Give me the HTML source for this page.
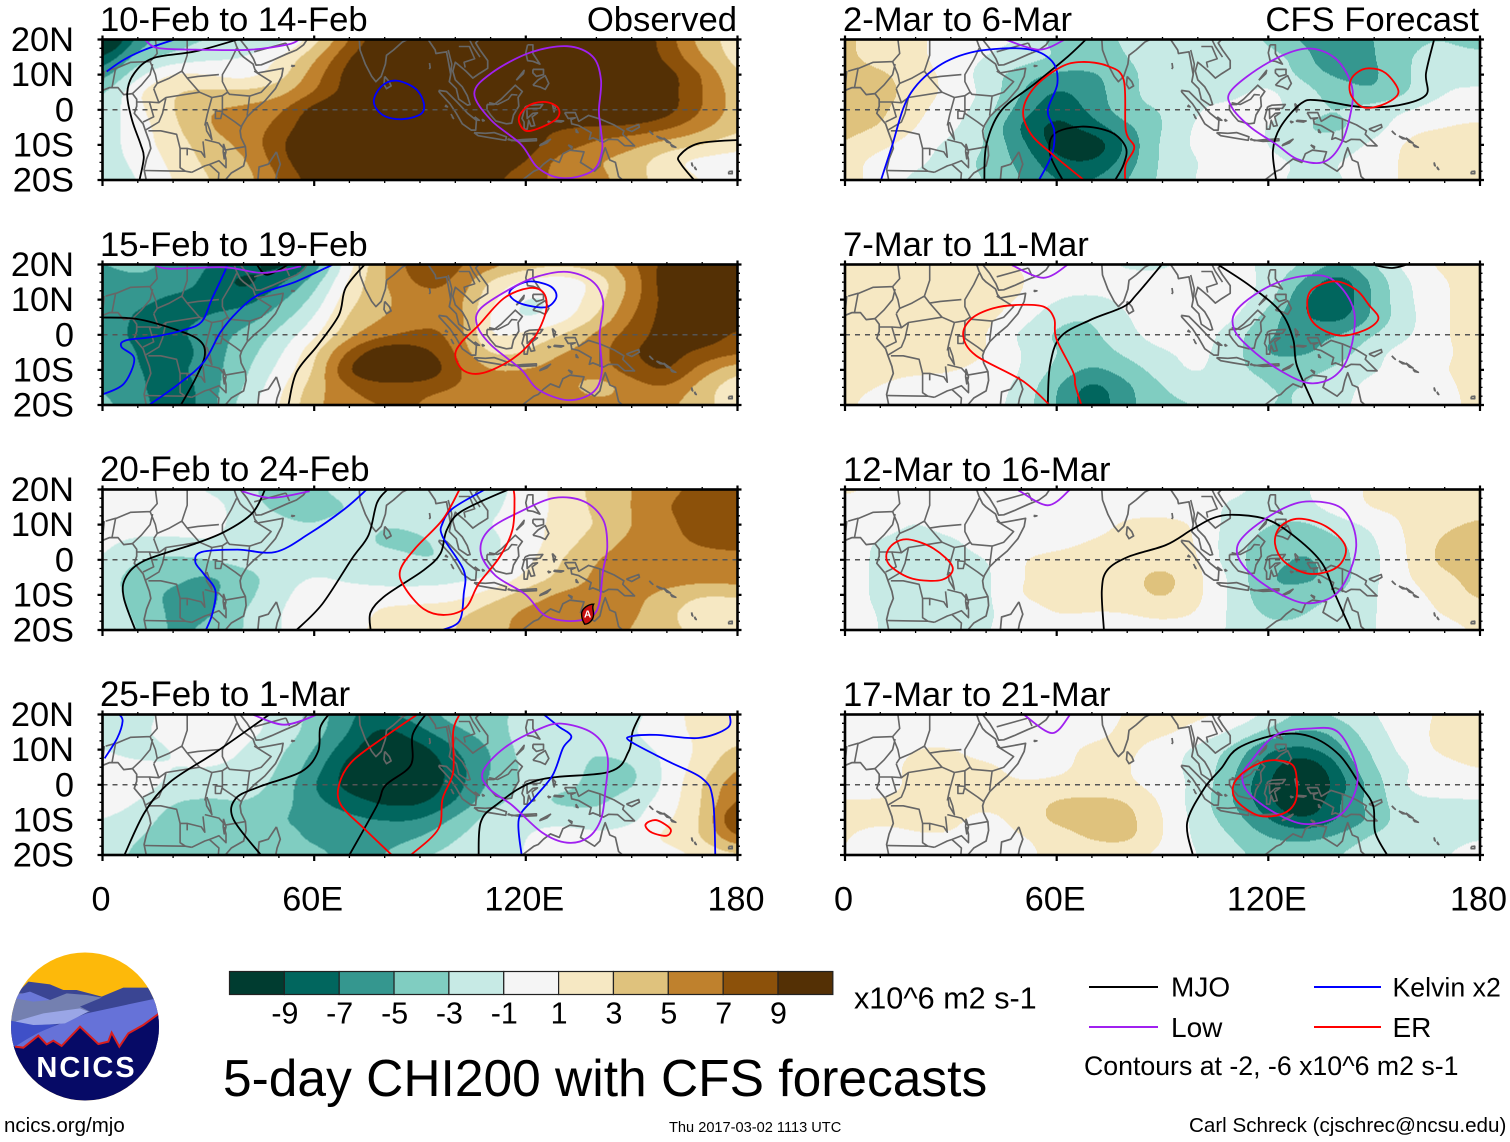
<!DOCTYPE html>
<html lang="en">
<head>
<meta charset="utf-8">
<title>5-day CHI200 with CFS forecasts</title>
<style>
html,body{margin:0;padding:0;background:#fff;}
svg{display:block;}
text{font-family:"Liberation Sans",sans-serif;fill:#000;}
</style>
</head>
<body>
<svg id="chart" xmlns="http://www.w3.org/2000/svg" width="1510" height="1142" viewBox="0 0 1510 1142">
  <rect x="0" y="0" width="1510" height="1142" fill="#fff"/>
  <g id="panels"></g>

  <g>
    <text x="100" y="31" font-size="34.65">10-Feb to 14-Feb</text>
    <text x="737" y="31" font-size="34.65" text-anchor="end">Observed</text>
    <text x="100" y="256" font-size="34.65">15-Feb to 19-Feb</text>
    <text x="100" y="481" font-size="34.9">20-Feb to 24-Feb</text>
    <text x="100" y="706" font-size="34.9">25-Feb to 1-Mar</text>
    <text x="843" y="31" font-size="34.65">2-Mar to 6-Mar</text>
    <text x="1479" y="31" font-size="34.65" text-anchor="end">CFS Forecast</text>
    <text x="843" y="256" font-size="34.65">7-Mar to 11-Mar</text>
    <text x="843" y="481" font-size="34.65">12-Mar to 16-Mar</text>
    <text x="843" y="706" font-size="34.65">17-Mar to 21-Mar</text>
  </g>

  <g id="colorbar"></g>
  <text x="854" y="1008.5" font-size="30.6">x10^6 m2 s-1</text>

  <text x="223" y="1096" font-size="51.5">5-day CHI200 with CFS forecasts</text>

  <g>
    <line x1="1089" y1="987" x2="1158" y2="987" stroke="#000" stroke-width="2"/>
    <text x="1171" y="996.5" font-size="28">MJO</text>
    <line x1="1314" y1="987" x2="1381" y2="987" stroke="#0000ff" stroke-width="2"/>
    <text x="1392.5" y="996.5" font-size="26.7">Kelvin x2</text>
    <line x1="1089" y1="1027" x2="1158" y2="1027" stroke="#a020f0" stroke-width="2"/>
    <text x="1171" y="1037" font-size="28">Low</text>
    <line x1="1314" y1="1027" x2="1381" y2="1027" stroke="#ff0000" stroke-width="2"/>
    <text x="1392.5" y="1037" font-size="28">ER</text>
    <text x="1084" y="1075" font-size="26.7">Contours at -2, -6 x10^6 m2 s-1</text>
  </g>

  <g>
    <clipPath id="logoClip"><circle cx="85" cy="1026.5" r="74"/></clipPath>
    <g clip-path="url(#logoClip)">
      <g transform="translate(0 945) scale(.3333)">
        <rect x="0" y="0" width="520" height="520" fill="#fdb90a"/>
        <path d="M50 145L85 110L150 118L190 135L230 135L305 155L370 128L445 128L490 220L490 330L20 330Z" fill="#3a4593"/>
        <path d="M30 165L55 145L100 145L150 165L200 145L260 150L305 158L240 185L270 200L100 232L20 235Z" fill="#7480b0"/>
        <path d="M50 150L90 140L150 165L100 170L45 160Z" fill="#6a78d8"/>
        <path d="M40 305L120 260L260 205L470 160L490 220L480 320L40 320Z" fill="#6672d8"/>
        <path d="M45 230L130 205L240 190L265 200L195 235L100 242Z" fill="#9aa6e6"/>
        <path d="M20 225L100 240L172 238L100 270L45 305L20 310Z" fill="#3f50c8"/>
        <path d="M20 300L45 305L70 308L115 272L140 298L160 287L185 303L240 245L295 297L325 290L335 263L358 305L385 265L430 240L490 195L490 500L20 500Z" fill="#060a66"/>
        <path d="M45 305L70 308L115 272L140 298L160 287L185 303L240 245L295 297L325 290L335 263L358 305L385 265L430 240L478 205" fill="none" stroke="#d81e1e" stroke-width="6"/>
      </g>
    </g>
    <text x="86.5" y="1077" text-anchor="middle" font-size="29" font-weight="bold" letter-spacing="2" style="fill:#fff">NCICS</text>
  </g>

  <text x="4" y="1132" font-size="20.5">ncics.org/mjo</text>
  <text x="669" y="1132" font-size="14.6">Thu 2017-03-02 1113 UTC</text>
  <text x="1189" y="1132" font-size="20.6">Carl Schreck (cjschrec@ncsu.edu)</text>
</svg>

<script>
/* ---------- axis data ---------- */
const gridLons = [0,10,20,30,40,50,60,70,80,90,100,110,120,130,140,150,160,170,180];
const gridLats = [20,15,10,5,0,-5,-10,-15,-20];
const xTickLons = [0,60,120,180];
const xTickLabels = ['0','60E','120E','180'];
const yTickLats = [20,10,0,-10,-20];
const yTickLabels = ['20N','10N','0','10S','20S'];
const levels = [-9,-7,-5,-3,-1,1,3,5,7,9];
const levelColors = ['#003c30','#01665e','#35978f','#80cdc1','#c7eae5','#f5f5f5','#f6e8c3','#dfc27d','#bf812d','#8c510a','#543005'];

/* ---------- CHI200 anomaly, rows N to S, columns 0E to 180E ---------- */
const chiFeb10 = [
[-14,-6,-4,-3,-3,-2,2,7,11,12,12,12,12,12,12,11,8,4,2],
[-9,-4,-2.5,-1.5,-1,1,4.5,9,12,13,13,13,13,13,13,11,8.5,5,2],
[-6,-1.5,1.5,1,0,2,6,10,13,13,13,13,13,13,13,11,10,7,3],
[-3.5,1,3,3.5,3.5,4.2,7,10,13,13,13,13,13,13,13,12,10,7,4],
[-2.5,.5,3,5,5.5,6.5,10,12,13,13,13,13,13,13,13,12,10,7,4],
[-2,0,2.5,5,6,7.5,11,12,13,13,13,12,10,9,8.5,8.5,7.5,5.5,3.5],
[-2,0,2,4,5.5,8.5,12,13,13,13,13,12,10,8,6.5,5.5,4,3,1.5],
[-2,-.5,1.5,3.5,4.5,8,11,12,13,13,12,11,9,6,5,4,1.5,0,0],
[-2.5,-1,1,3,4,7,10,12,12,12,11,10,7,7,6,3.5,2.5,1,-1]];
const chiFeb15 = [
[-5,-4.3,-5.5,-7,-8,-10,-6.5,.5,5,8.5,7.5,6,4,3.5,4,6.5,10,11,11],
[-6,-5.5,-6,-7.5,-10,-7.5,-4,1.5,5,7.5,7,2.5,.5,-.5,1.5,5.5,10.5,11,11],
[-5.5,-6.5,-7.5,-7.5,-8,-5.5,-2.5,2.5,4.5,6.5,6,1.5,-1.5,-.5,2,6,10,11,11],
[-5.5,-7.5,-7.5,-7,-6,-4,-1,3.5,5,6.5,6.5,.5,-1.5,0,3,7,10,11,10],
[-6,-7.5,-7.5,-6,-4.5,-2.5,.5,4.5,6.5,7.5,6.5,.5,1.5,3,5.5,8,10,10.5,8.5],
[-6,-7,-8.5,-6,-4,-1.5,2.5,7.5,11,10,7,2.5,3,5,6,9,10,8.5,7.5],
[-5.5,-7,-7.5,-6,-3.5,-.5,3,9.5,12,12,7.5,5,5,6,6,8,9.5,6,3.5],
[-5,-6.5,-8.5,-6,-3,.5,4,7,8,7.5,7,6,7,6,3.5,6,7,4,1.5],
[-4.5,-6,-8.5,-6,-2,1,4.5,6.5,7,7,6,5.5,7,7,6,5.5,5.5,3.5,2]];
const chiFeb20 = [
[0,0,0,-1.3,-2,-4.5,-3.5,-2,-2,-1.5,-1.5,-1.5,-.5,2,3.5,5,6.5,7.5,7.5],
[0,0,0,0,-2,-3.5,-4,-3,-2,-2,-1.5,-1.5,0,1.5,3.5,5,7,8,8],
[0,0,0,-.5,-1.5,-2.5,-3,-2,-3,-2.5,-1.5,-1,0,1.8,3,5,6.5,8,8],
[-.5,-1.5,-1.5,-1,-1.5,-2,-2,-2.2,-3.5,-3.5,-2,-1.5,0,2,4,5.5,6.5,7.2,7.5],
[-1,-3,-3.5,-3,-2,-2,-2,-2,-2,-3,-3,-1.2,.3,3,5,6,6.5,6.5,6.5],
[-2,-4,-4.5,-5.5,-4,-2,-.8,-1.5,-2,-2,-1.5,-1.2,1.5,3.5,5.5,6,6,6,6],
[-1.8,-4,-5.5,-5.5,-3.8,-1.5,0,0,0,0,0,2,4,5.5,5.5,5.5,4.5,3,3.5],
[-1.5,-3.5,-5.5,-5.5,-3,-1,0,0,1.5,1.8,2.5,4,5.5,5.8,5.5,5.5,3.5,1.5,.5],
[-1,-3,-5.5,-4.5,-3,-1,0,0,2,2,3,4.5,5.5,5.5,5.5,5,3.5,2.5,2]];
const chiFeb25 = [
[-1.5,-2,0,0,0,-1.8,-3.5,-7,-7,-6,-4,-3.5,-2.5,-2,-3,-1.5,0,2,2.5],
[-1,-1.5,0,0,-.5,-1.5,-4,-7,-10,-7.5,-5.5,-4,-2,-1.5,-1.5,-1.2,.3,1.5,2],
[-1,-1.8,-1,0,-1,-2.5,-5,-8.5,-11,-10,-7,-5,-2,-1.8,-3,-1.8,-.5,1.5,3.5],
[0,-.5,-1,-1,-1.5,-3,-6,-10,-12,-11,-8,-5,-2.5,-2,-3.5,-3.5,-.5,2,5],
[.3,0,-1.5,-1.5,-2,-3.5,-7,-10,-11.5,-11,-8,-4.5,-2.5,-2.5,-3.5,-3.5,-.5,3,6.5],
[0,-1,-3,-3.5,-3,-4,-6.5,-8,-9.5,-9.5,-7,-3.5,-2.5,-3.5,-3.5,-2,0,3,7.5],
[-1,-2,-4,-5,-3.5,-5,-5.5,-6.5,-7,-7,-4.5,-2,-1.5,-1.5,-2,-1.5,.7,3,10],
[-1.5,-3,-4,-5.1,-3.5,-4,-5.5,-5.5,-6,-5,-3,-2,-1,0,-.5,0,1.5,3,7],
[-2,-3.5,-3.5,-4,-3,-3.5,-4.5,-5.5,-5,-3,-2.5,-1.5,-1,.5,0,0,0,1.5,2.5]];
const chiMar2 = [
[3.5,2,1.5,0,-.5,-1,-4,-3,-3,-2,-1.5,-1.5,-3.5,-5.5,-6,-5,-3.5,-3,-4.5],
[3.5,2,1.5,0,-1,-2,-3,-3.5,-3,-2,-1.5,-1.5,-2,-4,-8,-5,-3,-2,-2],
[4,3.5,1.8,.5,-2,-4,-5.5,-5.5,-3.5,-2,-1.5,-1.5,-1.8,-3.5,-5.5,-5.5,-3,-1.5,-2],
[3.5,4,2,.5,-1.5,-5,-7.5,-6,-3.5,-2,-1.5,-1.5,-.5,-2.2,-4,-5,-3,-1,-.5],
[4,3.5,1.5,0,-2,-6,-8.5,-6.5,-3.5,-3,-1,-.5,0,-2.5,-3,-2,-1,0,0],
[3.5,3,1,-.5,-3,-7.5,-10,-8,-5.5,-3,-.5,-.5,-1,-3,-3.5,-2,.5,1,1.5],
[3,1.5,0,-1.5,-3,-6.5,-10,-11,-6.5,-2.5,-.5,0,-1,-2.5,-2,-.5,1.5,2,2],
[2,0,-.5,-2,-3.5,-5.5,-8.5,-9,-6,-2.5,-1,0,-.5,-1.2,-1,0,1.5,2,2],
[2,0,-1.5,-2.2,-3,-5,-7,-7,-5,-2.5,-.8,0,-.5,-1.5,-1.2,0,1.5,1.5,1.5]];
const chiMar7 = [
[3.2,2,1.5,1.5,1,1,0,0,-1.5,-1.5,0,-.3,-1.5,-3,-5.5,-3,0,1.5,1.8],
[2.5,1.5,1.5,1.5,1.5,1.2,0,0,0,0,0,0,-1.5,-5.5,-8.5,-4.5,-1,1,1.5],
[1.5,1.5,1.5,1.5,1.5,1,-1,-1.5,-.5,0,0,0,-2,-7,-9,-4.5,-1.2,1,1.5],
[1.5,1.5,1.5,1.5,1.5,0,-2.5,-3,-1,0,0,-.5,-4,-7,-8,-4.5,-1.5,1,1.5],
[1.5,1.5,1.5,1.5,1.2,-1.5,-3.5,-3.5,-1.5,0,0,-2,-5,-5.5,-5,-3,-1.2,1,1.5],
[1.5,1.5,1.5,1.5,1.2,-1,-3,-4,-2.5,-1.2,-.5,-2,-5.5,-5.5,-4,-1.5,0,.8,1.5],
[1.5,1.5,1.5,1.2,.5,-1,-3.5,-5.5,-4,-2,-.5,-2.5,-3.5,-3.5,-2.5,-1.2,0,1,1.5],
[1.5,1,0,0,0,-1.5,-5,-8,-5.5,-3,-2,-2,-3,-3,-2,0,-.7,.7,1.5],
[1.5,0,0,0,0,-2,-5,-8.5,-5.5,-3.5,-3,-3,-3,-3,-1.5,0,-1,.5,1.5]];
const chiMar12 = [
[1.5,.5,0,0,0,0,0,0,0,0,0,-.5,-1.5,-1.2,0,1.5,1.5,1.5,1.5],
[0,0,0,0,0,0,0,0,0,0,0,-1.5,-2,-1.5,0,1.3,1.5,1.5,2],
[0,0,-1.3,0,0,0,0,0,1.5,1.8,.8,-2,-3,-3.5,-1.8,-.5,1.5,2.5,3.5],
[0,-1.3,-1.8,-1.5,0,0,.3,1.2,1.8,1.8,1,-2.5,-3.5,-4.5,-3.5,-1.2,1.3,3.5,4.5],
[0,-1.5,-1.8,-1.5,-1.2,1,1.7,1.8,1.9,2.2,1.3,-2.5,-4,-5.5,-3.8,-1.5,1.2,3.8,4.5],
[0,-1.5,-3.2,-1.5,-1.5,1,1.7,1.7,2.2,3.9,1.5,-1.5,-5,-5.8,-4,-1.3,1,2.5,4],
[0,-1.5,-2.5,-1.5,-1.5,1.2,1.8,1.6,2.2,3.5,1.5,-1.5,-4.5,-4,-3,-1.1,.3,1.8,3.5],
[0,-1.2,-1.5,-1.3,-1.3,-.2,1.2,1,1,1.8,1,-1.5,-3.5,-3.2,-1.8,-1.1,0,1.2,2],
[.5,-1.2,-1.3,-1.3,-1.2,0,0,0,0,0,0,-1.3,-2.5,-2.5,-1.5,-1.1,0,.3,1.3]];
const chiMar17 = [
[0,0,0,0,0,0,-1,0,1.2,1.5,1.5,.5,-1.3,-3.5,-2.5,-1,0,1.5,1.7],
[0,0,0,0,0,0,0,.3,1.5,1.5,.3,-1.3,-3.5,-5.5,-4.5,-1.5,0,1.8,1.8],
[0,0,1.1,1.2,0,0,.3,1.5,1.5,0,-1.5,-3.5,-7,-7.5,-5.5,-2.5,0,1.5,1.5],
[0,.3,1.5,1.7,1.5,.3,.6,1.5,1.2,-.5,-1.5,-4.5,-8,-11.5,-7,-3,-1,.5,1.2],
[0,0,1.6,1.8,1.5,1.2,1.4,1.6,1.4,0,-1.5,-5,-9,-12.5,-8,-4,-.5,0,-.2],
[1.2,1.3,1.5,1.7,1.5,1.8,3.4,3.7,3.2,.7,-2,-5,-8.5,-11.5,-7,-4,-1.5,-1.3,-1.2],
[1.5,1.5,1.5,1.5,.3,1.8,3.6,4,3.8,1.1,-1.8,-4,-7,-9,-7,-4.5,-1.5,-1.5,-1.3],
[1.2,0,.8,.8,0,.8,1.8,3.4,3.7,1,-1.5,-3,-5,-5.5,-4.5,-2.5,-1.5,-1.5,-1.2],
[1,0,0,0,0,.5,1.5,1.5,1.5,.5,-1,-2.5,-3.5,-4,-3,-1.5,-1.2,-1.2,0]];
const chiPanels = [chiFeb10,chiFeb15,chiFeb20,chiFeb25,chiMar2,chiMar7,chiMar12,chiMar17];

/* ---------- contour curves as [lon,lat,lon,lat,...], per panel; first=last means closed ---------- */
const mjoLines = [
 [[10.5,-20,11.7,-13.6,10.8,-9.8,8.4,-3,7,4.6,9,10.4,14.4,14.7,26.3,16.6,38.3,20],
  [180,-8.6,168.9,-9.6,163.5,-13.1,164,-15.5,167.7,-20]],
 [[0,4.9,9.6,4.5,20.4,1.6,27.5,-1.6,29,-5.9,26.3,-12.6,22.2,-20],
  [52.7,-20,55,-10.7,61,-3,67,5.6,68.9,13.3,74.3,20],
  [43.7,20,46.7,17.1,52.7,20]],
 [[9.3,-20,6,-10.7,6.6,-5,12,-.2,26.3,4.6,34.7,8,42.5,13.3,46.1,20],
  [55,-20,62.3,-12.6,70.7,.3,75.4,7,77.8,16.2,80.8,20],
  [76,-20,76,-15,80.2,-10.2,91,-3,95.8,1.8,97.6,8.5,101.8,13.8,115,20]],
 [[6.2,-20,12,-7.8,19.2,.8,32.3,9.4,47.3,20],
  [44.9,-20,37.1,-9.8,37.7,-4,44.3,-.6,56.3,3.7,61.1,9.4,61.7,16.2,64.1,20],
  [70,-20,77.8,-5.9,80.2,-.2,87.4,5.6,87.9,14.2,91.6,20],
  [106.6,-20,107.2,-10.7,111.4,-5.9,123.4,1.3,143.7,3.7,149.1,9.4,150.3,15.2,152.5,20]],
 [[39.5,-20,40.1,-9.8,44.3,-.2,53.9,7.5,63.2,15.2,68.3,20],
  [61.7,-20,58.1,-12.6,59.3,-6.9,67,-4.8,75.4,-6.4,79.6,-10.7,79,-15.5,76.6,-20],
  [122.2,-20,121.3,-11.7,123.4,-5,129.3,1.8,134.1,2.7,146.1,.8,156.9,1.3,164.7,4.2,164.7,10.4,167,20]],
 [[57.5,-20,58.1,-8.8,61.1,-.6,69.5,4.2,79,8,82.6,11.4,89.8,20],
  [106,19.8,115,13.8,123.4,6.6,127,-1.1,128.1,-8.8,132.9,-20],
  [150.3,19.8,155.1,19,159.3,20]],
 [[73.4,-20,72.8,-8.8,74.3,-3,80.2,.8,91,4.2,98.2,8.5,104.2,11.8,110.2,12.8,119.8,11.4,128.1,6.1,135.3,-1.1,138.9,-9.8,143.4,-20]],
 [[98.6,-20,97,-10.7,101.8,-1.1,106.6,4.6,111.4,10.4,122.2,14.2,131.7,13.8,140.1,8.5,146.1,-.2,149.7,-5.9,150.3,-13.6,153.7,-20]]
];
const kelvinLines = [
 [[1.2,10.9,6,14.2,12,17.1,20.4,20],
  [83.2,8.3,88.6,6.1,91,2.2,90.4,-1.1,85,-2.7,79.6,-1.6,76.9,2.2,79,6.6,83.2,8.3]],
 [[0,-17,6,-14,9,-6.9,5.4,-3.5,6.6,-1.6,14.4,-.6,22.8,1.3,28.1,3.7,31.1,10.4,34.7,18.1,35.3,20],
  [13.2,-20,21.6,-14,28.7,-7.8,33.5,.8,38.3,6.6,44.3,11.4,55,15.2,65.3,20],
  [121.6,15.2,127,13.8,128.7,10.9,126.3,8,122.2,8,117.4,9.4,115.3,11.8,117.4,14,121.6,15.2]],
 [[29.3,-20,31.1,-15.5,32,-8.8,28.7,-4,26.3,-.6,28.1,2.2,38.3,2.9,49,2.2,58.7,7.5,68.3,14.2,74.9,20],
  [96.4,-20,101.2,-17.4,102.4,-9.8,102.4,-3,96.4,6.6,96.4,10.4,99.4,14.7,108.4,20]],
 [[.6,7.5,4.2,13.3,5.7,18.1,4.8,20],
  [118.8,-20,118,-9.8,122.2,-4,127.6,2.7,130.5,10.4,132.9,13.8,129.3,16.6,125.1,20],
  [177.8,20,177.2,16.2,168.9,13.3,156.9,14.2,149.9,13.8,149.7,12.3,160.5,6.6,170,1.8,173,-4,173.7,-20]],
 [[10.2,-20,13.2,-10.7,18,3.7,26.3,12.3,37.1,16.6,51.5,17.3,58.7,13.8,60.2,7.5,57.5,-.2,59.3,-5.9,58.7,-12.6,55,-20]],
 [],
 [],
 []
];
const lowLines = [
 [[12,20,15.6,17.6,26.3,17.1,41.9,17.1,52.7,18.6,55.7,20],
  [131.7,18.1,138.9,15.2,141.3,8.5,140.7,-.2,141.3,-5.9,141.6,-11.7,138.9,-17.4,130.5,-19.5,123.4,-16.5,118.6,-9.8,110.2,-3,105.4,4.6,110.2,10.4,121,16.2,131.7,18.1]],
 [[15,19.8,19.2,18.8,34.7,19.2,45.5,17.6,56.3,19.5],
  [131.7,17.9,138.9,15.2,141.9,9.4,140.9,-.2,141.5,-10.7,138.9,-16.5,131.7,-18.6,123.4,-15.5,118.6,-9.8,110.2,-3,106.2,2.7,107.2,7.5,116,13.3,123.4,16.6,131.7,17.9]],
 [[39.5,19.5,47.9,17.6,58.7,19.5],
  [128.1,17.6,136.5,16.6,141.9,11.4,143.1,3.7,141.9,-3,140.1,-14.5,134.1,-17.4,125.7,-16,119.8,-9.8,111.4,-4.5,107.2,2.2,109.6,8.5,118.6,13.8,128.1,17.6]],
 [[42.5,20,51.5,17.1,60.5,19.8],
  [130.1,17.4,138.9,14.7,143.1,8.5,142.5,-2.1,141.3,-9.8,137.7,-15,131.7,-16.5,124.6,-13.6,116.2,-5.9,109.6,-1.1,107.8,3.7,113.8,10.4,123.4,15.7,130.1,17.4]],
 [[45.5,20,55,17.1,62,19.8],
  [130.5,17.4,138.9,14.7,143.7,6.6,143.1,-2.1,140.1,-10.7,135.3,-15,128.1,-14,122.2,-9.8,115,-5,109.6,.8,109.6,5.6,119.8,13.3,130.5,17.4]],
 [[47.3,19.8,56.3,16.2,63.2,20],
  [131.7,16.9,138.9,15.2,144.3,6.6,143.1,-5,138.9,-11.7,131.7,-13.8,123.4,-10.2,115,-4,110.2,1.8,111.4,7.5,121,14.2,131.7,16.9]],
 [[49.1,19.8,57.5,15.5,63.8,20],
  [131.7,16.6,141.3,14.2,144.9,3.7,140.1,-8.8,131.7,-12.4,123.4,-9.8,115,-4,111.1,2.2,113.8,7.5,123.4,14.2,131.7,16.6]],
 [[50.9,19.8,58.7,14.7,63.7,19.8],
  [131.7,16,140.1,14.7,145.3,2.7,141.3,-7.8,131.7,-11.2,123.4,-8.8,115,-3,112.6,2.2,115,6.6,122.2,14.2,131.7,16]]
];
const erLines = [
 [[122.2,1.8,126.3,2.1,129.3,.3,128.7,-2.6,123.4,-5.4,119.8,-5.9,118,-3,119.2,-.2,122.2,1.8]],
 [[121,13.3,125.1,11.8,125.7,6.6,122.2,-1.1,116.2,-6.9,107.8,-10.9,102.4,-10.2,100,-5.9,101.8,-2.1,106.6,2.7,113.8,10.4,121,13.3]],
 [[101.2,20,96.4,11.4,88.6,3.2,84.4,-3,85.6,-7.8,91,-14,97,-15.7,103,-13.6,106.6,-6.9,112.6,.8,116.2,8.5,116.8,17.1,116.5,20]],
 [[89.2,20,80.2,13.8,70.7,6.6,67,-.2,67.7,-5.9,74.3,-12.6,82,-20],
  [87.4,-20,95.2,-12.6,96.4,-4,99.4,3.7,99.4,15.2,101.2,20],
  [157.5,-10.2,161,-12.6,159.9,-14.5,155.7,-13.6,153.9,-11.7,155.1,-10.4,157.5,-10.2]],
 [[67.7,-20,58.7,-12.6,52.7,-6.9,50.5,-.2,53.9,6.6,61.1,12.1,67,13.6,74.3,12.5,79,8.5,79.6,-5.9,82,-10.7,79.6,-15.5,79.4,-20],
  [148.5,11.8,153.3,10.4,156.9,5.1,153.3,1.8,147.3,.6,143.7,3.7,143.1,7.5,144.9,10.4,148.5,11.8]],
 [[58,-20,50.3,-13.1,37.1,-5.9,33.5,-.2,35.9,4.6,41.9,7.5,49.1,8.5,56.3,8,59.3,4.6,59.9,-1.1,64.7,-10.7,65.3,-14.5,67,-20],
  [138.9,15.2,144.9,12.8,148.5,8.5,151.2,4.6,147.3,1.3,140.1,-.2,133.5,2.7,131.1,7.5,132.3,12.8,138.9,15.2]],
 [[128.7,11.7,136.5,9.4,141.9,3.7,139.5,-2.1,131.7,-4,124.6,-.6,121.9,4.6,123.4,9.4,128.7,11.7],
  [18,5.8,25.1,3.2,30.5,-2.1,27.5,-5.7,19.2,-5.4,13.2,-2.1,11.7,1.3,13.8,4.6,18,5.8]],
 [[122.2,7,126.9,5.6,128.1,.8,127.6,-5,124,-8.3,117.4,-8.8,111.4,-5,109.9,-1.1,112,2.7,117.4,6.1,122.2,7]]
];
const curveColors = ['#000000','#0000ff','#a020f0','#ff0000'];
const curveNames = ['mjo','kelvin','low','er'];

/* tropical storm marker: panel index, lon, lat */
const stormPanel = [2];
const stormLon = [137.5];
const stormLat = [-15.5];

/* ---------- geography (lon,lat polylines) ---------- */
const coastLines = [
 [0,5.5,2,6.3,4.4,6.3,6,4.3,8.5,4.6,9.7,3,9.7,1,9,-1,11.5,-4,12.2,-6,13.3,-9,13.7,-11,12.5,-14,11.8,-17,12.5,-20.5],
 [34.8,-20,36.5,-18,40,-16,40.7,-13,40.5,-10.5,39.3,-8,39,-6,39.5,-4.5,41,-2,43,0,46,2.5,49,6,50.8,9.5,51.2,11.8,48,11.2,44,10.5,43.2,11.5,42.7,13,40,15,39,16,38,18,37.3,20],
 [39,20,41,17.5,42.8,14.5,43.5,12.7,45,12.8,48,14,52,15.8,55,17,57,18.5,58,20],
 [72.8,20,73,17,74.5,13,76.3,9.5,77.5,8,79,9.5,80.2,13,80.5,15.5,82.5,17,85,19.3,86.5,20],
 [80,9.5,81.3,8,81.8,6.8,80.5,6,79.8,7.2,80,9.5],
 [92.3,20,94.3,17,94.5,16,97.5,16.5,98,14,98.7,10,98.3,8,100.3,6,101,3,103.5,1.3,104.2,1.5,103.4,4,102,6.5,100,8.5,99.3,11,100,13.5,101,12.7,103,11,105,9,106.8,10.3,109.2,11.8,109.2,14,107,17,105.8,19,106.7,20],
 [95.3,5.5,97.5,5.2,100.5,2.2,103.5,-1,106,-3,105.8,-5.8,104.5,-5.8,102,-4,100.3,-1,98.5,1.7,95.5,5,95.3,5.5],
 [105.3,-6.5,108.5,-6.7,111,-6.5,114.5,-7.7,114.3,-8.7,110,-8,106.5,-7.4,105.3,-6.5],
 [115,-8.2,116,-8.8,119,-8.5,123,-8.3,123,-8.8,118.5,-9,115,-8.5,115,-8.2],
 [124,-10,127,-8.4,126,-9.4,124,-10.2,124,-10],
 [109,1.5,111,1.5,113,3,115,5,117,7,119,5.2,117.8,3.5,118,1,116.5,-1.5,116,-3.8,114.5,-4,111.5,-3.2,110,-1.5,109,0,109,1.5],
 [119.8,.8,121,1.3,124.8,1.5,124,.4,120.3,.3,120.4,-2.5,122,-1,123.3,-.9,121.8,-2,122.5,-4.5,121.5,-4.7,120.8,-3,120.4,-5.5,119.5,-5.5,119.5,-3.5,118.9,-2.5,119.8,.8],
 [120.5,18.5,122,18.5,122,16,124,13,122,13.8,120.5,14,120,16.2,120.5,18.5],
 [122,7,123.5,8.5,125.5,9.7,126.5,7.5,125.5,5.8,124,6.5,122,7],
 [117.3,8.4,119.5,11.2,119.3,10.3,117.3,8.4],
 [122,11.5,125,11.5,125,10,123,9.5,122,10.5,122,11.5],
 [131,-.8,134,-.8,135,-3.3,137.8,-1.6,141,-2.6,145,-4.3,147.8,-6,147.5,-7,150.8,-10.3,148,-10.2,146,-8.5,143.5,-8.4,142,-9.2,139,-8,138,-8.4,138.5,-6.5,135,-4.5,133,-4,132.8,-2.8,134,-2.3,132,-2.5,131,-.8],
 [148.5,-5.5,152,-4.2,152.2,-5,150,-6.2,148.5,-5.5],
 [114,-21,116,-20.4,119,-20,122.3,-17.5,123.5,-17,125,-15.5,127,-14,129.5,-15,130.5,-12.5,132.5,-11.5,136.5,-12,135.5,-15,139.5,-17.5,141,-16,141.7,-13,142.5,-10.8,143.8,-14.3,145.4,-15,146.3,-19,148,-20.5],
 [49.3,-12,50.4,-15.5,49.5,-18,49,-20.5,44,-20.5,44.4,-16.3,47,-15.5,49.3,-12],
 [155,-6,156,-7,155.5,-6.6,155,-6],[157,-7.5,159,-8.3,158,-8.2,157,-7.5],[159,-8,161,-9.5,160,-9.2,159,-8],[161,-9.8,162.5,-10.7,161.5,-10.5,161,-9.8],
 [167,-15,167.3,-16,167.1,-15.8,167,-15],[167.8,-16.2,168.3,-17,168,-16.8,167.8,-16.2],
 [177.5,-17.6,178.5,-17.5,178.5,-18.2,177.5,-18.2,177.5,-17.6],
 [128,-3,130.7,-3.2,130,-3.5,128,-3.3,128,-3],[127.5,1.8,128,-.6,128.4,.8,127.5,1.8],
 [126.2,-3.2,127,-3.5,126.5,-3.7,126.2,-3.2],[134.2,-5.5,134.8,-6.5,134.3,-6.4,134.2,-5.5],
 [53.5,12.6,54.4,12.5,53.8,12.3,53.5,12.6],[92.7,13.3,92.9,12,92.6,11.6],[98.8,-1.2,99.5,-2.5,99.1,-2],[97,1,97.8,.8,97.2,1.4],
 [105.5,-2,106.8,-3,106,-2.9,105.5,-2],[107.6,-2.7,108.2,-3.1,107.8,-3.2,107.6,-2.7],
 [132,-10,133,-11,133.1,-10.5,132,-10]
];
const borderLines = [
 [0,6,.5,11],[2.7,6.3,3.7,11.8,.9,11],[8.5,4.6,11,7,13.5,10,14.2,13],[3.6,11.7,8,13.5,13.5,13.7],
 [15,20,15.5,16,13.5,13.7,15,10,15.5,7.5,19,9,22.5,11,24,9,27.5,5,31,3.5,34,4,35.5,5,36,4.4,41.7,3.9,41,-1.7],
 [24,20,24,15.5,22.5,11],[36.5,14.3,34,10,34,8,35.5,5],[24,9,27,9.5,33,10],[36.5,14.3,38,17.5],[43,11,47.8,8,45,5,41.7,3.9],
 [14.5,6,16,2,18,3.5,27.5,5],[14.5,6,15.5,7.5],[18,3.5,17,-1,16,-3.5,12.2,-5.8],[13,-6,16.5,-6,21,-7,22,-11,24,-11,24,-13],
 [22,-11,22,-16.5,23.5,-17.5],[11.8,-17.3,18.5,-17.4,23.5,-17.5,25.3,-17.8],[24,-11,28,-12,29,-13.5,28.5,-9],
 [31,3.5,29.7,-1.3,29,-4.5],[34,-1,37.6,-3.5,39.2,-4.7],[34,4,34,-1],[29,-8.5,33,-9.5,34.8,-11.5,40.5,-10.5],
 [30.3,-15.6,33,-14.5,35,-16.5,35,-14,34.5,-12],[25.3,-17.8,29,-16,30.3,-15.6,33,-18,32.8,-20.5],
 [9.7,2.2,13.3,2.2,14.5,-2,11.5,-3.5],[13.3,2.2,16,2],
 [32,-.3,34,-.5,33.5,-2.5,32,-2.5,32,-.3],[29.2,-3.5,29.5,-6,31,-8.5,30.5,-6,29.6,-3.5],[34.3,-9.7,35,-12,34.5,-14,34.2,-12,34.3,-9.7],
 [98,17,99,13,98.7,10],[101,18,104,18,105.5,14.5,102.5,13.5,102.8,12],[107,15,105,18,104,20],
 [109.6,2,112,1.5,115,3,116,4.3,117.6,4.2],[141,-2.6,141,-9.2],[43,16.5,52,19],[52,19,53,16.7]
];

/* ---------- layout ---------- */
const SVGNS = 'http://www.w3.org/2000/svg';
const panelLeft = [102.5,102.5,102.5,102.5,845,845,845,845];
const panelTop = [39.5,264.5,489.5,714.5,39.5,264.5,489.5,714.5];
const panelWidth = 635;
const panelHeight = 140.5;

function mk(tag, attrs, parent){
  const el = document.createElementNS(SVGNS, tag);
  for (const k in attrs) el.setAttribute(k, attrs[k]);
  if (parent) parent.appendChild(el);
  return el;
}
function xScale(i, lon){ return panelLeft[i] + (lon - xTickLons[0]) / (xTickLons[3] - xTickLons[0]) * panelWidth; }
function yScale(i, lat){ return panelTop[i] + (yTickLats[0] - lat) / (yTickLats[0] - yTickLats[4]) * panelHeight; }

/* blend of Catmull-Rom and cubic B-spline: keeps peaks while smoothing contour edges */
const splineMix = 0.4;
function cr(a,b,c,d,t){
  const cat = b + .5*t*(c-a + t*(2*a-5*b+4*c-d + t*(3*(b-c)+d-a)));
  const u = 1-t, t2 = t*t, t3 = t2*t;
  const bs = (u*u*u*a + (3*t3-6*t2+4)*b + (-3*t3+3*t2+3*t+1)*c + t3*d)/6;
  return splineMix*cat + (1-splineMix)*bs;
}
function sampleField(grid, lon, lat){
  const nx = gridLons.length, ny = gridLats.length;
  const fx = (lon - gridLons[0]) / (gridLons[1]-gridLons[0]);
  const fy = (gridLats[0] - lat) / (gridLats[0]-gridLats[1]);
  const ix = Math.min(Math.floor(fx), nx-2), iy = Math.min(Math.floor(fy), ny-2);
  const tx = fx-ix, ty = fy-iy;
  const rowVal = [];
  for (let j=-1;j<=2;j++){
    const r = grid[Math.max(0,Math.min(ny-1,iy+j))];
    const g = k => r[Math.max(0,Math.min(nx-1,ix+k))];
    rowVal.push(cr(g(-1),g(0),g(1),g(2),tx));
  }
  return cr(rowVal[0],rowVal[1],rowVal[2],rowVal[3],ty);
}
function binOf(v){
  let b = 0;
  while (b < levels.length && v >= levels[b]) b++;
  return b;
}
function polyPath(i, pts){
  let d = '';
  for (let k=0;k<pts.length;k+=2){
    d += (k? 'L':'M') + xScale(i,pts[k]).toFixed(1) + ' ' + yScale(i,pts[k+1]).toFixed(1);
  }
  return d;
}
function smoothPath(i, pts){
  const n = pts.length/2;
  const P = [];
  for (let k=0;k<n;k++) P.push([xScale(i,pts[2*k]), yScale(i,pts[2*k+1])]);
  const closed = pts[0]===pts[pts.length-2] && pts[1]===pts[pts.length-1];
  const at = k => {
    if (closed){ const m = n-1; return P[((k%m)+m)%m]; }
    return P[Math.max(0,Math.min(n-1,k))];
  };
  let d = 'M'+P[0][0].toFixed(1)+' '+P[0][1].toFixed(1);
  for (let k=0;k<n-1;k++){
    const a=at(k-1), b=at(k), c=at(k+1), e=at(k+2);
    d += 'C'+(b[0]+(c[0]-a[0])/6).toFixed(1)+' '+(b[1]+(c[1]-a[1])/6).toFixed(1)+' '
      +(c[0]-(e[0]-b[0])/6).toFixed(1)+' '+(c[1]-(e[1]-b[1])/6).toFixed(1)+' '
      +c[0].toFixed(1)+' '+c[1].toFixed(1);
  }
  return d + (closed?'Z':'');
}

/* ---------- draw panels ---------- */
const panelsRoot = document.getElementById('panels');
const defs = mk('defs', {}, panelsRoot);
const cellPx = 1;
for (let i=0;i<chiPanels.length;i++){
  const L = panelLeft[i], T = panelTop[i];
  const clip = mk('clipPath', {id:'clip'+i}, defs);
  mk('rect', {x:L,y:T,width:panelWidth,height:panelHeight}, clip);

  const g = mk('g', {}, panelsRoot);
  
  
  const inner = mk('g', {'clip-path':'url(#clip'+i+')'}, g);

  /* shaded field */
  const paths = levelColors.map(() => []);
  const cols = Math.ceil(panelWidth/cellPx), rows = Math.ceil(panelHeight/cellPx);
  for (let r=0;r<rows;r++){
    const lat = yTickLats[0] - (r+.5)*cellPx/panelHeight*(yTickLats[0]-yTickLats[4]);
    let start = 0, cur = -1;
    for (let c=0;c<=cols;c++){
      let b = -2;
      if (c<cols){
        const lon = Math.min(180,(c+.5)*cellPx/panelWidth*xTickLons[3]);
        b = binOf(sampleField(chiPanels[i], lon, lat));
      }
      if (b!==cur){
        if (cur>=0) paths[cur].push('M'+(L+start*cellPx)+' '+(T+r*cellPx)+'h'+((c-start)*cellPx)+'v'+cellPx+'h'+(-(c-start)*cellPx)+'z');
        start = c; cur = b;
      }
    }
  }
  paths.forEach((parts,b) => {
    if (!parts.length) return;
    const el = mk('path', {d:parts.join(''), fill:levelColors[b], 'shape-rendering':'crispEdges'}, inner);
    
    
  });

  /* geography */
  const coast = mk('path', {d:coastLines.map(p=>polyPath(i,p)).join(''), fill:'none', stroke:'#666', 'stroke-width':1.7, 'stroke-linejoin':'round'}, inner);
  
  
  const border = mk('path', {d:borderLines.map(p=>polyPath(i,p)).join(''), fill:'none', stroke:'#666', 'stroke-width':1.6, 'stroke-linejoin':'round'}, inner);
  
  

  /* equator */
  const eq = mk('line', {x1:L,x2:L+panelWidth,y1:yScale(i,0),y2:yScale(i,0),stroke:'#555','stroke-width':1.5,'stroke-dasharray':'5 5'}, inner);
  
  

  /* contour curves */
  [mjoLines,kelvinLines,lowLines,erLines].forEach((set,s) => {
    set[i].forEach(pts => {
      const el = mk('path', {d:smoothPath(i,pts), fill:'none', stroke:curveColors[s], 'stroke-width':1.8, 'stroke-linejoin':'round'}, inner);
      
      
    });
  });

  /* storm marker */
  stormPanel.forEach((p,k) => {
    if (p!==i) return;
    const sx = xScale(i,stormLon[k]), sy = yScale(i,stormLat[k]);
    const s = mk('g', {transform:'translate('+sx.toFixed(1)+' '+sy.toFixed(1)+')'}, inner);
    
    
    mk('path', {d:'M6 -10C1 -10 -6 -6 -6 0C-6 5 -4 8 -3 10C2 10 6 5 6 0C6 -4 4 -7 6 -10Z', fill:'#c80f0f', stroke:'#000', 'stroke-width':1.4}, s);
    const t = mk('text', {x:0,y:3.5,'text-anchor':'middle','font-size':10,'font-weight':'bold',style:'fill:#fff'}, s);
    t.textContent = 'A';
  });

  /* frame and ticks */
  const B = T + panelHeight, R = L + panelWidth;
  let tickD = '', minorD = '';
  for (let lon=0; lon<=180; lon+=10){
    const x = xScale(i,lon).toFixed(1);
    if (xTickLons.indexOf(lon)>=0) tickD += 'M'+x+' '+(T-4)+'V'+T+'M'+x+' '+B+'V'+(B+6);
    else minorD += 'M'+x+' '+(T-2.5)+'V'+T+'M'+x+' '+B+'V'+(B+3);
  }
  for (let lat=-20; lat<=20; lat+=2.5){
    const y = yScale(i,lat).toFixed(1);
    if (lat%10===0) tickD += 'M'+(L-5)+' '+y+'H'+L+'M'+R+' '+y+'H'+(R+4);
    else minorD += 'M'+(L-3)+' '+y+'H'+L+'M'+R+' '+y+'H'+(R+2.5);
  }
  const minor = mk('path', {d:minorD, fill:'none', stroke:'#000', 'stroke-width':1.3}, g);
  
  
  const major = mk('path', {d:tickD, fill:'none', stroke:'#000', 'stroke-width':2.2}, g);
  
  
  const frame = mk('rect', {x:L,y:T,width:panelWidth,height:panelHeight,fill:'none',stroke:'#000','stroke-width':2.6}, g);
  
  

  /* y tick labels on left column only */
  if (i<4){
    yTickLabels.forEach((lab,k) => {
      const t = mk('text', {x:74,y:(yScale(i,yTickLats[k])+11.5).toFixed(1),'text-anchor':'end','font-size':34.4}, g);
      
      
      t.textContent = lab;
    });
  }
  /* x tick labels on bottom row */
  if (i===3 || i===7){
    xTickLabels.forEach((lab,k) => {
      const t = mk('text', {x:(xScale(i,xTickLons[k])-1.5).toFixed(1),y:910.5,'text-anchor':'middle','font-size':34.2}, g);
      
      
      t.textContent = lab;
    });
  }
}

/* ---------- colorbar ---------- */
const cbRoot = document.getElementById('colorbar');
const cbLeft = 229.5, cbTop = 971.5, cbBoxW = 54.85, cbBoxH = 23;
levelColors.forEach((col,k) => {
  const box = mk('rect', {x:(cbLeft+k*cbBoxW).toFixed(2),y:cbTop,width:cbBoxW.toFixed(2),height:cbBoxH,fill:col,stroke:'#222','stroke-width':1.2}, cbRoot);
  
  
});
levels.forEach((lev,k) => {
  const t = mk('text', {x:(cbLeft+(k+1)*cbBoxW+.5).toFixed(1),y:1023.5,'text-anchor':'middle','font-size':30.4}, cbRoot);
  
  
  t.textContent = String(lev);
});
</script>
</body>
</html>
